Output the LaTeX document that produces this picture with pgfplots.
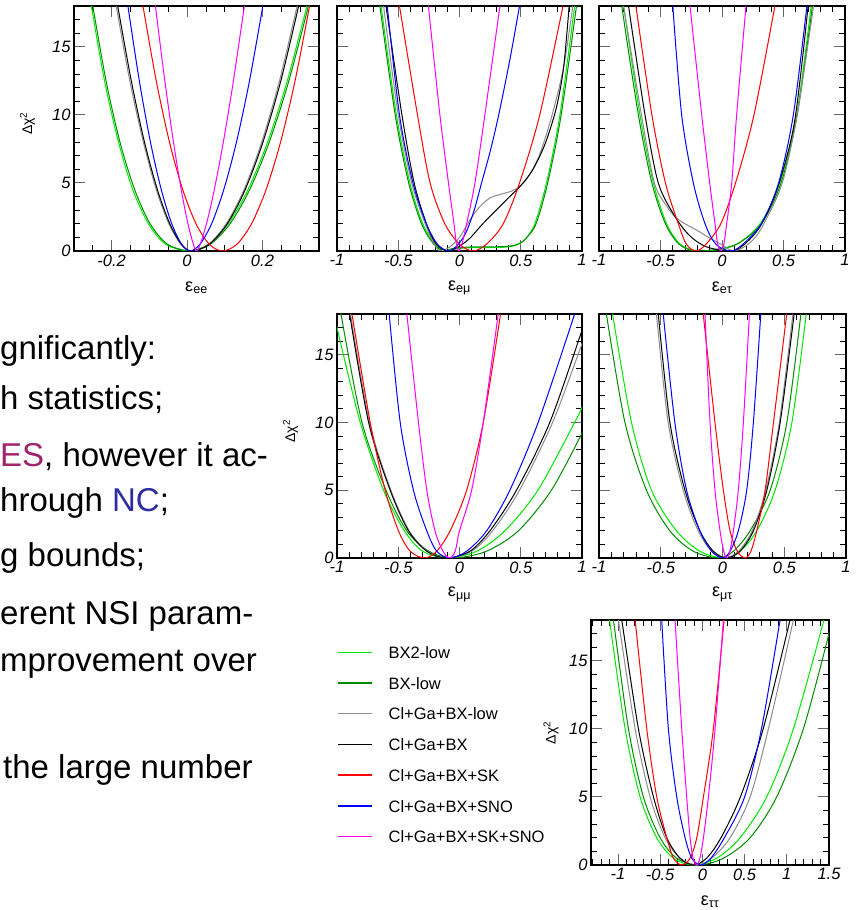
\documentclass[border=0pt]{standalone}
\usepackage{pgfplots}
\pgfplotsset{compat=1.18}
\usepackage{fontspec}
\setmainfont{Liberation Sans}
\definecolor{cA}{RGB}{0,232,0}
\definecolor{cB}{RGB}{0,140,0}
\definecolor{cC}{RGB}{140,140,140}
\definecolor{cD}{RGB}{0,0,0}
\definecolor{cE}{RGB}{255,0,0}
\definecolor{cF}{RGB}{0,0,255}
\definecolor{cG}{RGB}{255,0,255}
\definecolor{cES}{RGB}{160,35,110}
\definecolor{cNC}{RGB}{45,45,160}
\pgfplotsset{
  panel/.style={
    scale only axis, width=245pt, height=245pt, anchor=south west,
    ymin=0, ymax=18, ytick={0,5,10,15},
    minor ytick={1,2,3,4,6,7,8,9,11,12,13,14,16,17},
    tick align=inside, major tick length=11pt, minor tick length=6pt,
    major tick style={line width=1pt, black!60},
    minor tick style={line width=0.8pt, black},
    axis line style={line width=1.5pt},
    tick label style={font=\fontsize{16.5}{16.5}\selectfont\itshape},
    /pgf/number format/assume math mode=true,
    xlabel style={at={(axis description cs:0.5,-0.15)}, anchor=center, font=\fontsize{18}{18}\selectfont},
    ylabel style={at={(axis description cs:-0.19,0.52)}, anchor=center, font=\fontsize{14}{14}\selectfont},
    every axis plot/.append style={line width=1pt, smooth, no markers},
    clip=true,
  },
  wide/.style={xmin=-1, xmax=1, xtick={-1,-0.5,0,0.5,1},
    minor xtick={-0.9,-0.8,-0.7,-0.6,-0.4,-0.3,-0.2,-0.1,0.1,0.2,0.3,0.4,0.6,0.7,0.8,0.9}},
}
\begin{document}
\begin{tikzpicture}
\path[use as bounding box] (0pt,0pt) rectangle (859pt,910pt);
\begin{scope}[every node/.style={anchor=base west, inner sep=0pt, font=\fontsize{33}{40}\selectfont}]
\node at (0pt,550pt) {gnificantly:};
\node at (0pt,500pt) {h statistics;};
\node at (0pt,443pt) {\textcolor{cES}{ES}, however it ac-};
\node at (0pt,398pt) {hrough \textcolor{cNC}{NC};};
\node at (0pt,343pt) {g bounds;};
\node at (0pt,285pt) {erent NSI param-};
\node at (0pt,238pt) {mprovement over};
\node at (3pt,131pt) {the large number};
\end{scope}

% ---------------- ee
\begin{axis}[panel, at={(74pt,659pt)}, xmin=-0.3, xmax=0.35, xtick={-0.2,0,0.2},
  minor xtick={-0.3,-0.25,-0.15,-0.1,-0.05,0.05,0.1,0.15,0.25,0.3,0.35},
  xlabel={ε\textsubscript{ee}}, ylabel={Δχ\textsuperscript{2}}]
\addplot[cA] coordinates {(-0.254,18) (-0.219,12.5) (-0.182,8) (-0.144,4.5) (-0.1025,2) (-0.057,0.5) (0.005,0) (0.057,0.5) (0.109,2) (0.1615,4.5) (0.2137,8) (0.2658,12.5) (0.318,18)};
\addplot[cB] coordinates {(-0.25,18) (-0.215,12.5) (-0.178,8) (-0.139,4.5) (-0.098,2) (-0.052,0.5) (0.01,0) (0.062,0.5) (0.114,2) (0.166,4.5) (0.218,8) (0.27,12.5) (0.322,18)};
\addplot[cC] coordinates {(-0.188,18) (-0.152,12.5) (-0.116,8) (-0.0817,4.5) (-0.0484,2) (-0.017,0.5) (0.01,0) (0.057,0.5) (0.104,2) (0.151,4.5) (0.198,8) (0.245,12.5) (0.292,18)};
\addplot[cD] coordinates {(-0.184,18) (-0.148,12.5) (-0.113,8) (-0.0787,4.5) (-0.0458,2) (-0.015,0.5) (0.012,0) (0.0593,0.5) (0.1067,2) (0.154,4.5) (0.2013,8) (0.2487,12.5) (0.296,18)};
\addplot[cE] coordinates {(-0.117,18) (-0.0818,12.5) (-0.0467,8) (-0.0115,4.5) (0.0237,2) (0.0588,0.5) (0.094,0) (0.1325,0.5) (0.171,2) (0.2095,4.5) (0.248,8) (0.2865,12.5) (0.325,18)};
\addplot[cF] coordinates {(-0.157,18) (-0.1267,12.5) (-0.0972,8) (-0.0684,4.5) (-0.0407,2) (-0.0145,0.5) (0.008,0) (0.0344,0.5) (0.065,2) (0.0973,4.5) (0.131,8) (0.1656,12.5) (0.201,18)};
\addplot[cG] coordinates {(-0.084,18) (-0.059,12.5) (-0.0361,8) (-0.0155,4.5) (0.0023,2) (0.0166,0.5) (0.025,0) (0.0348,0.5) (0.0515,2) (0.0722,4.5) (0.0962,8) (0.1229,12.5) (0.152,18)};
\end{axis}

% ---------------- e mu
\begin{axis}[panel, wide, at={(337pt,659pt)}, yticklabels={}, xlabel={ε\textsubscript{eμ}}]
\addplot[cA] coordinates {(-0.64,18) (-0.515,10) (-0.405,5) (-0.3,2) (-0.2,0.5) (-0.12,0) (-0.04,0.15) (0.1,0.25) (0.25,0.25) (0.4,0.3) (0.48,0.5) (0.54,0.9) (0.615,2) (0.71,5) (0.82,10) (0.94,18)};
\addplot[cB] coordinates {(-0.65,18) (-0.525,10) (-0.415,5) (-0.31,2) (-0.21,0.5) (-0.13,0) (-0.05,0.2) (0.1,0.3) (0.25,0.3) (0.4,0.35) (0.49,0.55) (0.55,1.0) (0.625,2) (0.72,5) (0.83,10) (0.955,18)};
\addplot[cC] coordinates {(-0.62,18) (-0.5,10) (-0.39,5) (-0.28,2) (-0.21,0.6) (-0.16,0) (-0.08,0.3) (0,1.0) (0.08,2.2) (0.16,3.2) (0.25,3.9) (0.35,4.2) (0.45,4.5) (0.55,5.3) (0.65,7.0) (0.75,9.8) (0.85,13.5) (0.925,18)};
\addplot[cD] coordinates {(-0.6,18) (-0.47,10) (-0.37,5) (-0.27,2) (-0.19,0.5) (-0.1,0) (-0.02,0.25) (0.08,0.9) (0.19,2.0) (0.3,3.0) (0.41,4.0) (0.5,4.8) (0.6,6.0) (0.7,7.9) (0.79,10.5) (0.85,13.5) (0.895,18)};
\addplot[cE] coordinates {(-0.49,18) (-0.343,10) (-0.24,5) (-0.12,2) (0.0,0.5) (0.11,0) (0.22,0.5) (0.357,2) (0.49,5) (0.655,10) (0.845,18)};
\addplot[cF] coordinates {(-0.59,18) (-0.49,10) (-0.38,5) (-0.27,2) (-0.18,0.5) (-0.09,0) (-0.02,0.4) (0.05,1.3) (0.12,3) (0.18,5) (0.25,7.3) (0.32,10) (0.41,14) (0.49,18)};
\addplot[cG] coordinates {(-0.254,18) (-0.16,10) (-0.09,5) (-0.045,2) (-0.025,0.5) (-0.005,0) (0.02,0.5) (0.058,2) (0.126,5) (0.207,10) (0.33,18)};
\end{axis}

% ---------------- e tau
\begin{axis}[panel, wide, width=246pt, at={(599pt,659pt)}, yticklabels={}, xlabel={ε\textsubscript{eτ}}]
\addplot[cA] coordinates {(-0.80,18) (-0.667,10) (-0.558,5) (-0.45,2) (-0.34,0.5) (-0.2,0) (-0.05,0.08) (0.12,0.5) (0.31,2) (0.47,5) (0.607,10) (0.725,18)};
\addplot[cB] coordinates {(-0.815,18) (-0.68,10) (-0.57,5) (-0.46,2) (-0.35,0.5) (-0.22,0) (-0.05,0.12) (0.13,0.55) (0.32,2) (0.48,5) (0.612,10) (0.735,18)};
\addplot[cC] coordinates {(-0.8,18) (-0.655,10) (-0.55,5) (-0.45,3.3) (-0.38,2.5) (-0.3,2.0) (-0.2,1.5) (-0.1,0.95) (0.0,0.45) (0.09,0) (0.18,0.3) (0.26,0.9) (0.34,2) (0.49,5) (0.61,10) (0.745,18)};
\addplot[cD] coordinates {(-0.76,18) (-0.626,10) (-0.518,5) (-0.38,2.5) (-0.26,1.1) (-0.125,0.3) (0.065,0) (0.17,0.4) (0.31,1.8) (0.45,4.6) (0.59,9.5) (0.70,18)};
\addplot[cE] coordinates {(-0.70,18) (-0.57,10) (-0.46,5) (-0.355,2) (-0.29,0.5) (-0.21,0) (-0.13,0.5) (-0.01,2) (0.11,5) (0.26,10) (0.43,18)};
\addplot[cF] coordinates {(-0.40,18) (-0.328,10) (-0.233,5) (-0.138,2) (-0.05,0.5) (0.07,0) (0.17,0.5) (0.32,2) (0.46,5) (0.58,10) (0.69,18)};
\addplot[cG] coordinates {(-0.26,18) (-0.165,10) (-0.1,5) (-0.057,2) (-0.035,0.5) (-0.01,0) (0.015,0.5) (0.038,2) (0.079,5) (0.119,10) (0.195,18)};
\end{axis}

% ---------------- mu mu
\begin{axis}[panel, wide, height=244pt, at={(337pt,352pt)}, xlabel={ε\textsubscript{μμ}}, ylabel={Δχ\textsuperscript{2}}]
\addplot[cA] coordinates {(-1.03,18.5) (-1,17) (-0.81,10) (-0.62,5) (-0.45,2) (-0.3,0.5) (-0.1,0) (0.14,0.5) (0.37,2) (0.64,5) (0.94,10) (1,11.1) (1.05,12)};
\addplot[cB] coordinates {(-0.99,19.5) (-0.968,18) (-0.796,10) (-0.6,5) (-0.43,2) (-0.25,0.5) (-0.05,0) (0.22,0.5) (0.48,2) (0.75,5) (1,9.2) (1.05,10.2)};
\addplot[cC] coordinates {(-0.89,18) (-0.735,10) (-0.56,5) (-0.41,2) (-0.26,0.5) (-0.09,0) (0.1,0.5) (0.27,2) (0.49,5) (0.76,10) (1,15.8) (1.05,17)};
\addplot[cD] coordinates {(-0.897,18) (-0.742,10) (-0.566,5) (-0.416,2) (-0.267,0.5) (-0.104,0) (0.085,0.5) (0.248,2) (0.465,5) (0.737,10) (1,16.8) (1.04,18)};
\addplot[cE] coordinates {(-0.878,18) (-0.729,10) (-0.607,5) (-0.498,2) (-0.403,0.5) (-0.285,0) (-0.186,0.5) (-0.077,2) (0.058,5) (0.194,10) (0.335,18)};
\addplot[cF] coordinates {(-0.574,18) (-0.484,10) (-0.376,5) (-0.267,2) (-0.186,0.5) (-0.077,0) (0.058,0.5) (0.221,2) (0.411,5) (0.642,10) (0.94,18)};
\addplot[cG] coordinates {(-0.43,18) (-0.335,10) (-0.267,5) (-0.2,2) (-0.135,0.5) (-0.08,0) (-0.035,0.5) (0.0,2) (0.099,5) (0.194,10) (0.316,18)};
\end{axis}

% ---------------- mu tau
\begin{axis}[panel, wide, width=247pt, height=244pt, at={(599pt,352pt)}, yticklabels={}, xlabel={ε\textsubscript{μτ}}]
\addplot[cA] coordinates {(-0.89,18) (-0.737,10) (-0.575,5) (-0.372,2) (-0.183,0.5) (0.007,0) (0.142,0.5) (0.277,2) (0.426,5) (0.562,10) (0.678,18)};
\addplot[cB] coordinates {(-0.94,18) (-0.79,10) (-0.616,5) (-0.426,2) (-0.237,0.5) (-0.034,0) (0.088,0.5) (0.223,2) (0.386,5) (0.521,10) (0.635,18)};
\addplot[cC] coordinates {(-0.535,18) (-0.44,10) (-0.318,5) (-0.197,2) (-0.088,0.5) (0.02,0) (0.13,0.5) (0.24,2) (0.35,5) (0.46,10) (0.57,18)};
\addplot[cD] coordinates {(-0.52,18) (-0.426,10) (-0.304,5) (-0.183,2) (-0.074,0.5) (0.034,0) (0.142,0.5) (0.25,2) (0.359,5) (0.467,10) (0.58,18)};
\addplot[cE] coordinates {(-0.156,18) (-0.061,10) (0.007,5) (0.061,2) (0.12,0.5) (0.183,0) (0.23,0.5) (0.277,2) (0.345,5) (0.413,10) (0.52,18)};
\addplot[cF] coordinates {(-0.48,18) (-0.386,10) (-0.291,5) (-0.183,2) (-0.088,0.5) (0.0,0) (0.061,0.5) (0.128,2) (0.196,5) (0.25,10) (0.31,18)};
\addplot[cG] coordinates {(-0.142,18) (-0.101,10) (-0.061,5) (-0.02,2) (0.01,0.5) (0.034,0) (0.06,0.5) (0.088,2) (0.128,5) (0.169,10) (0.218,18)};
\end{axis}

% ---------------- tau tau
\begin{axis}[panel, width=238pt, at={(591pt,45pt)}, xmin=-1.32, xmax=1.5,
  xtick={-1,-0.5,0,0.5,1,1.5},
  minor xtick={-1.3,-1.2,-1.1,-0.9,-0.8,-0.7,-0.6,-0.4,-0.3,-0.2,-0.1,0.1,0.2,0.3,0.4,0.6,0.7,0.8,0.9,1.1,1.2,1.3,1.4},
  xlabel={ε\textsubscript{ττ}}, ylabel={Δχ\textsuperscript{2}},
  ylabel style={at={(axis description cs:-0.168,0.54)}},
  legend cell align=left,
  legend style={at={(-1.067,0.9)}, anchor=north west, draw=none, fill=none, inner sep=0pt,
    row sep=14.9pt, column sep=16pt, font=\fontsize{16.5}{16.5}\selectfont,
    nodes={inner sep=0pt, text height=13.8pt, text depth=2pt}},
  legend image code/.code={\draw[#1,line width=1.4pt] (0pt,0.3pt) -- (34pt,0.3pt);}]
\addplot[color=cA] coordinates {(-1.10,18) (-0.916,10) (-0.738,5) (-0.541,2) (-0.343,0.5) (-0.107,0) (0.17,0.5) (0.446,2) (0.762,5) (1.078,10) (1.44,18)};
\addlegendentry{BX2-low}
\addplot[color=cB] coordinates {(-1.054,18) (-0.876,10) (-0.699,5) (-0.501,2) (-0.304,0.5) (-0.047,0) (0.249,0.5) (0.565,2) (0.88,5) (1.196,10) (1.5,17) (1.53,18)};
\addlegendentry{BX-low}
\addplot[color=cC] coordinates {(-0.995,18) (-0.797,10) (-0.62,5) (-0.442,2) (-0.265,0.5) (-0.067,0) (0.11,0.5) (0.328,2) (0.565,5) (0.782,10) (1.078,18)};
\addlegendentry{Cl+Ga+BX-low}
\addplot[color=cD] coordinates {(-0.955,18) (-0.758,10) (-0.58,5) (-0.422,2) (-0.265,0.5) (-0.107,0) (0.05,0.5) (0.22,2) (0.45,5) (0.72,10) (1.038,18)};
\addlegendentry{Cl+Ga+BX}
\addplot[color=cE] coordinates {(-0.797,18) (-0.659,10) (-0.541,5) (-0.422,2) (-0.343,0.5) (-0.245,0) (-0.146,0.5) (-0.067,2) (0.012,5) (0.13,10) (0.257,18)};
\addlegendentry{Cl+Ga+BX+SK}
\addplot[color=cF] coordinates {(-0.482,18) (-0.403,10) (-0.304,5) (-0.205,2) (-0.126,0.5) (-0.02,0) (0.1,0.5) (0.26,2) (0.5,5) (0.7,10) (0.92,18)};
\addlegendentry{Cl+Ga+BX+SNO}
\addplot[color=cG] coordinates {(-0.324,18) (-0.245,10) (-0.186,5) (-0.146,2) (-0.11,0.5) (-0.067,0) (-0.03,0.5) (0.012,2) (0.071,5) (0.15,10) (0.249,18)};
\addlegendentry{Cl+Ga+BX+SK+SNO}
\end{axis}
\end{tikzpicture}
\end{document}
